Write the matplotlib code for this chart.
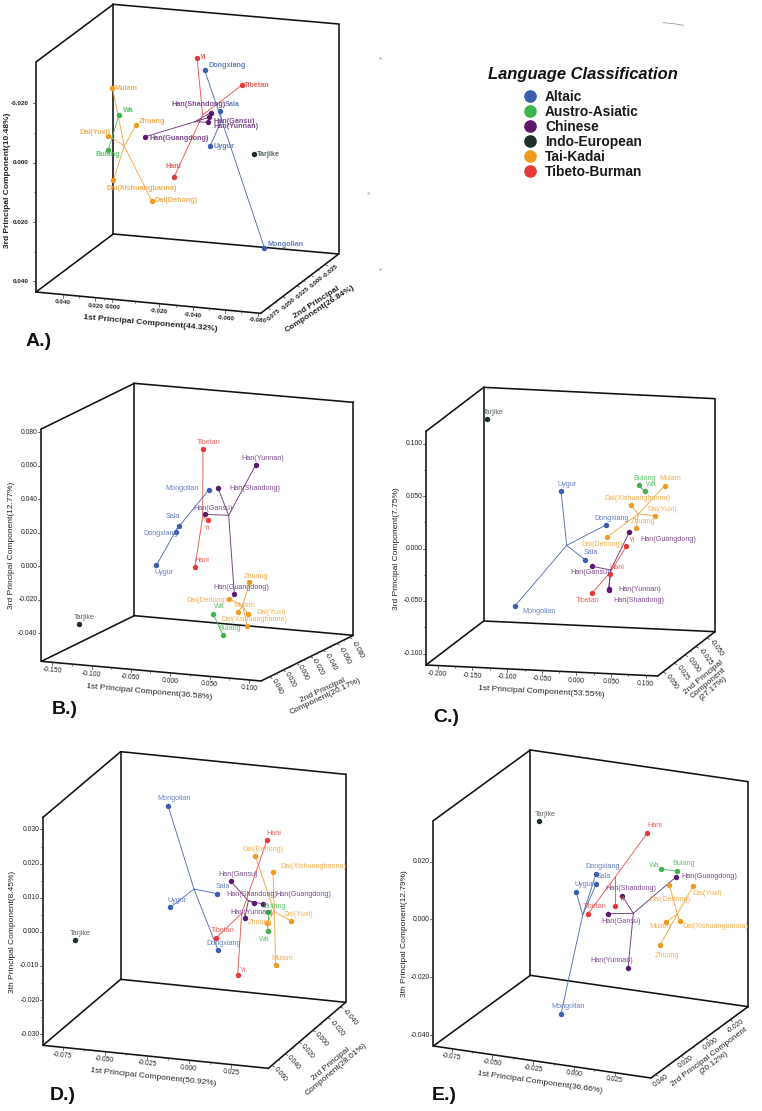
import matplotlib
matplotlib.use("Agg")
import matplotlib.pyplot as plt
import numpy as np

plt.rcParams['font.family'] = ['Liberation Sans', 'DejaVu Sans']
W, H = 762, 1111
SCALE = 3

GROUP_COLORS = {'alt': '#3A5FAE', 'aus': '#3DB54A', 'chi': '#5B1A6E', 'ind': '#1F2F2C', 'tai': '#F09A20', 'tib': '#E5393A'}
LABEL_COLORS = {'alt': '#5570B5', 'aus': '#55BD62', 'chi': '#6E3A80', 'ind': '#45524F', 'tai': '#F2A844', 'tib': '#E8584F'}
LEGEND_NAMES = ['Altaic', 'Austro-Asiatic', 'Chinese', 'Indo-European', 'Tai-Kadai', 'Tibeto-Burman']
LEGEND_KEYS = ['alt', 'aus', 'chi', 'ind', 'tai', 'tib']

POPS = ['Yi', 'Dongxiang', 'Tibetan', 'Mulam', 'Wa', 'Zhuang', 'Dai(Yuxi)', 'Bulang', 'Dai(Xishuangbanna)',
        'Dai(Dehong)', 'Hani', 'Han(Shandong)', 'Sala', 'Han(Gansu)', 'Han(Yunnan)', 'Han(Guangdong)',
        'Uygur', 'Tarjike', 'Mongolian']
POP_GROUP = ['tib', 'alt', 'tib', 'tai', 'aus', 'tai', 'tai', 'aus', 'tai',
             'tai', 'tib', 'chi', 'alt', 'chi', 'chi', 'chi', 'alt', 'ind', 'alt']

# Panel A: projected positions
A_x = [591, 614, 725, 337, 357, 408, 325, 325, 340, 455, 522, 632, 660, 627, 623, 436, 631, 762, 793]
A_y = [173, 211, 256, 263, 345, 375, 407, 450, 540, 602, 532, 338, 334, 352, 367, 410, 437, 462, 743]
A_lx = [600, 626, 733, 344, 368, 417, 239, 288, 320, 464, 496, 513, 675, 642, 642, 449, 640, 772, 803]
A_ly = [173, 197, 256, 264, 330, 365, 397, 464, 565, 603, 498, 313, 313, 364, 380, 414, 438, 462, 733]
A_tree = [('tai', (373, 438), ['Mulam', 'Zhuang', 'Dai(Yuxi)', 'Dai(Xishuangbanna)', 'Dai(Dehong)']),
          ('tib', (608, 345), ['Yi', 'Tibetan', 'Hani']),
          ('alt', (665, 360), ['Dongxiang', 'Mongolian', 'Sala', 'Uygur']),
          ('chi', (585, 365), ['Han(Guangdong)', 'Han(Shandong)', 'Han(Gansu)', 'Han(Yunnan)']),
          ('aus', (341, 397), ['Wa', 'Bulang'])]

# Panel B
B_x = [623, 527, 609, 714, 639, 748, 743, 669, 742, 688, 585, 654, 538, 616, 767, 703, 469, 236, 626]
B_y = [449, 485, 236, 726, 731, 637, 732, 795, 768, 686, 591, 354, 467, 433, 285, 673, 586, 763, 360]
B_lx = [610, 431, 591, 701, 642, 732, 769, 654, 663, 560, 583, 689, 496, 580, 725, 641, 464, 223, 496]
B_ly = [474, 491, 216, 707, 711, 618, 726, 775, 748, 692, 571, 357, 441, 414, 265, 653, 608, 743, 357]
B_tree = [('tai', (728, 708), ['Zhuang', 'Dai(Dehong)', 'Mulam', 'Dai(Yuxi)', 'Dai(Xishuangbanna)']),
          ('tib', (608, 440), ['Tibetan', 'Yi', 'Hani']),
          ('alt', (530, 478), ['Mongolian', 'Sala', 'Dongxiang', 'Uygur']),
          ('chi', (686, 436), ['Han(Yunnan)', 'Han(Shandong)', 'Han(Gansu)', 'Han(Guangdong)']),
          ('aus', (654, 763), ['Wa', 'Bulang'])]

# Panel C
C_x = [769, 708, 667, 884, 825, 799, 856, 806, 782, 712, 720, 716, 645, 667, 716, 778, 573, 351, 435]
C_y = [529, 465, 668, 347, 364, 473, 437, 346, 406, 500, 611, 661, 569, 589, 656, 487, 363, 147, 708]
C_lx = [776, 673, 618, 869, 828, 782, 833, 791, 702, 634, 718, 731, 642, 602, 746, 811, 564, 338, 457]
C_ly = [512, 446, 692, 327, 344, 454, 418, 327, 386, 525, 592, 692, 549, 609, 659, 508, 343, 127, 725]
C_tree = [('tai', (805, 432), ['Mulam', 'Dai(Xishuangbanna)', 'Dai(Yuxi)', 'Zhuang', 'Dai(Dehong)']),
          ('tib', (720, 608), ['Yi', 'Hani', 'Tibetan']),
          ('alt', (590, 526), ['Uygur', 'Dongxiang', 'Sala', 'Mongolian']),
          ('chi', (722, 600), ['Han(Guangdong)', 'Han(Gansu)', 'Han(Yunnan)', 'Han(Shandong)']),
          ('aus', (815, 355), ['Bulang', 'Wa'])]

# Panel D
D_x = [713, 654, 649, 827, 803, 800, 873, 804, 819, 766, 801, 763, 651, 692, 734, 789, 511, 224, 504]
D_y = [706, 630, 593, 675, 574, 549, 543, 517, 396, 349, 300, 490, 461, 424, 535, 492, 502, 600, 197]
D_lx = [720, 620, 634, 814, 776, 743, 849, 789, 840, 726, 798, 680, 648, 655, 691, 825, 503, 211, 472]
D_ly = [690, 611, 573, 656, 599, 549, 525, 498, 381, 329, 280, 465, 441, 404, 516, 465, 482, 581, 177]
D_tree = [('tai', (823, 515), ['Dai(Dehong)', 'Dai(Yuxi)', 'Zhuang', 'Dai(Xishuangbanna)', 'Mulam']),
          ('tib', (725, 520), ['Hani', 'Tibetan', 'Yi']),
          ('alt', (582, 447), ['Mongolian', 'Dongxiang', 'Uygur', 'Sala']),
          ('chi', (745, 482), ['Han(Gansu)', 'Han(Shandong)', 'Han(Guangdong)', 'Han(Yunnan)']),
          ('aus', (804, 545), ['Bulang', 'Wa'])]

# Panel E
E_x = [705, 648, 623, 859, 843, 840, 940, 890, 899, 868, 801, 727, 649, 685, 744, 889, 588, 476, 543]
E_y = [498, 402, 523, 546, 388, 616, 437, 393, 542, 435, 280, 468, 431, 521, 685, 410, 455, 244, 822]
E_lx = [717, 617, 610, 809, 808, 825, 938, 878, 906, 809, 801, 675, 650, 664, 632, 905, 583, 465, 515]
E_ly = [478, 380, 501, 561, 376, 646, 461, 371, 561, 478, 257, 445, 409, 544, 662, 411, 433, 222, 800]
E_tree = [('tai', (892, 522), ['Dai(Dehong)', 'Dai(Yuxi)', 'Dai(Xishuangbanna)', 'Mulam', 'Zhuang']),
          ('tib', (705, 412), ['Hani', 'Tibetan', 'Yi']),
          ('alt', (608, 525), ['Dongxiang', 'Sala', 'Uygur', 'Mongolian']),
          ('chi', (760, 520), ['Han(Shandong)', 'Han(Gansu)', 'Han(Guangdong)', 'Han(Yunnan)']),
          ('aus', (866, 390), ['Wa', 'Bulang'])]

PANELS = [
    dict(crop=(0, 0, 380, 360), xs=A_x, ys=A_y, lx=A_lx, ly=A_ly, tree=A_tree, bold=True,
         tl=(340, 13), tr=(1016, 72), br=(1016, 762), bl=(340, 702), fl=(108, 186), fb=(108, 876), fc=(782, 940),
         ytl=['-0.020', '0.000', '0.020', '0.040'], ytp=[310, 488, 666, 844], ylab_x=85,
         xtl=['0.040', '0.020', '0.000', '-0.020', '-0.040', '-0.060', '-0.080'],
         xtx=[188, 286, 337, 476, 578, 676, 773], xty=[908, 918, 921, 934, 945, 954, 961], xrot=-5,
         ztl=['0.075', '0.050', '0.025', '0.000', '-0.025'],
         ztx=[822, 868, 910, 950, 992], zty=[945, 912, 878, 845, 812], zrot=40,
         xlab='1st Principal Component(44.32%)', xlc=(452, 970), xlrot=-5,
         zlab='2nd Principal\nComponent(26.84%)', zlc=(955, 918), zlrot=33,
         ylab='3rd Principal Component(10.48%)', ylc=(22, 540), letter='A.)', lc=(78, 1025), tfs=4.6),
    dict(crop=(0, 370, 370, 370), xs=B_x, ys=B_y, lx=B_lx, ly=B_ly, tree=B_tree, bold=False,
         tl=(403, 40), tr=(1060, 97), br=(1060, 796), bl=(403, 737), fl=(124, 177), fb=(124, 874), fc=(783, 933),
         ytl=['0.080', '0.060', '0.040', '0.020', '0.000', '-0.020', '-0.040'],
         ytp=[187, 287, 388, 488, 589, 689, 790], ylab_x=112,
         xtl=['-0.150', '-0.100', '-0.050', '0.000', '0.050', '0.100'],
         xtx=[157, 275, 392, 511, 629, 747], xty=[902, 912, 923, 933, 944, 954], xrot=-5,
         ztl=['0.040', '0.020', '0.000', '-0.020', '-0.040', '-0.060', '-0.080'],
         ztx=[830, 870, 910, 953, 992, 1035, 1073], zty=[950, 930, 908, 890, 875, 857, 838], zrot=-62,
         xlab='1st Principal Component(36.58%)', xlc=(447, 966), xlrot=-5,
         zlab='2nd Principal\nComponent(20.17%)', zlc=(972, 970), zlrot=25,
         ylab='3rd Principal Component(12.77%)', ylc=(36, 525), letter='B.)', lc=(155, 1020), tfs=4.9),
    dict(crop=(370, 370, 392, 370), xs=C_x, ys=C_y, lx=C_lx, ly=C_ly, tree=C_tree, bold=False,
         tl=(341, 52), tr=(1035, 86), br=(1035, 785), bl=(341, 753), fl=(168, 184), fb=(168, 885), fc=(863, 918),
         ytl=['0.100', '0.050', '0.000', '-0.050', '-0.100'], ytp=[221, 378, 536, 693, 851], ylab_x=158,
         xtl=['-0.200', '-0.150', '-0.100', '-0.050', '0.000', '0.050', '0.100'],
         xtx=[203, 307, 412, 516, 619, 723, 827], xty=[912, 917, 922, 927, 932, 937, 942], xrot=-3,
         ztl=['0.050', '0.025', '0.000', '-0.025', '-0.050'],
         ztx=[905, 938, 970, 1005, 1038], zty=[935, 908, 884, 862, 835], zrot=-55,
         xlab='1st Principal Component(53.55%)', xlc=(513, 966), xlrot=-3,
         zlab='2nd Principal\nComponent\n(27.17%)', zlc=(1015, 940), zlrot=40,
         ylab='3rd Principal Component(7.75%)', ylc=(80, 535), letter='C.)', lc=(190, 1043), tfs=4.9),
    dict(crop=(0, 740, 380, 371), xs=D_x, ys=D_y, lx=D_lx, ly=D_ly, tree=D_tree, bold=False,
         tl=(362, 35), tr=(1037, 103), br=(1037, 787), bl=(362, 718), fl=(129, 232), fb=(129, 916), fc=(805, 985),
         ytl=['0.030', '0.020', '0.010', '0.000', '-0.010', '-0.020', '-0.030'],
         ytp=[268, 371, 473, 575, 677, 780, 882], ylab_x=118,
         xtl=['-0.075', '-0.050', '-0.025', '0.000', '0.025'],
         xtx=[188, 314, 441, 566, 693], xty=[947, 960, 972, 985, 998], xrot=-6,
         ztl=['0.060', '0.040', '0.020', '0.000', '-0.020', '-0.040'],
         ztx=[840, 880, 922, 963, 1012, 1050], zty=[1003, 968, 934, 898, 865, 832], zrot=-50,
         xlab='1st Principal Component(50.92%)', xlc=(461, 1012), xlrot=-6,
         zlab='2rd Principal\nComponent(28.01%)', zlc=(1000, 980), zlrot=40,
         ylab='3th Principal Component(8.45%)', ylc=(38, 575), letter='D.)', lc=(148, 1068), tfs=4.9),
    dict(crop=(380, 740, 382, 371), xs=E_x, ys=E_y, lx=E_lx, ly=E_ly, tree=E_tree, bold=False,
         tl=(451, 30), tr=(1104, 125), br=(1104, 800), bl=(451, 706), fl=(160, 242), fb=(160, 918), fc=(813, 1014),
         ytl=['0.020', '0.000', '-0.020', '-0.040'], ytp=[365, 538, 712, 886], ylab_x=150,
         xtl=['-0.075', '-0.050', '-0.025', '0.000', '0.025'],
         xtx=[215, 337, 460, 582, 704], xty=[952, 969, 986, 1002, 1020], xrot=-8,
         ztl=['0.040', '0.020', '0.000', '-0.020'],
         ztx=[843, 918, 992, 1067], zty=[1022, 965, 912, 858], zrot=35,
         xlab='1st Principal Component(36.66%)', xlc=(480, 1028), xlrot=-8,
         zlab='2rd Principal Component\n(20.12%)', zlc=(995, 960), zlrot=37,
         ylab='3th Principal Component(12.79%)', ylc=(72, 581), letter='E.)', lc=(155, 1068), tfs=4.9),
]

FRAME = '#111111'
TICKC = '#333333'
fig = plt.figure(figsize=(W / 100, H / 100), dpi=100, facecolor='white')


def project(p, a, b):
    a, b, p = map(lambda v: np.array(v, float), (a, b, p))
    d = b - a
    t = np.clip(np.dot(p - a, d) / np.dot(d, d), 0, 1)
    return a + t * d


def draw_edge_ticks(ax, a, b, xs, ys, direction):
    pts = [project((x, y), a, b) for x, y in zip(xs, ys)]
    d = np.array(direction, float)
    d = d / np.linalg.norm(d)
    for i, p in enumerate(pts):
        q = p + d * 9
        ax.plot([p[0], q[0]], [p[1], q[1]], color=TICKC, lw=0.5, clip_on=False)
        if i + 1 < len(pts):
            m = (p + pts[i + 1]) / 2
            q = m + d * 5
            ax.plot([m[0], q[0]], [m[1], q[1]], color=TICKC, lw=0.4, clip_on=False)


for P in PANELS:
    x0, y0, w, h = P['crop']
    ax = fig.add_axes([x0 / W, 1 - (y0 + h) / H, w / W, h / H])
    ax.set_xlim(0, w * SCALE)
    ax.set_ylim(h * SCALE, 0)
    ax.axis('off')
    ax.patch.set_alpha(0)
    tl, tr, br, bl, fl, fb, fc = (P[k] for k in ('tl', 'tr', 'br', 'bl', 'fl', 'fb', 'fc'))
    flw = 1.15
    for seg in [(tl, tr), (tr, br), (br, bl), (bl, tl), (tl, fl), (fl, fb), (fb, bl), (fb, fc), (fc, br)]:
        ax.plot([seg[0][0], seg[1][0]], [seg[0][1], seg[1][1]], color=FRAME, lw=flw, solid_capstyle='round', clip_on=False)

    weight = 'bold' if P['bold'] else 'normal'
    # y ticks
    ys = P['ytp']
    for i, (t, v) in enumerate(zip(P['ytl'], ys)):
        ax.plot([fl[0] - 9, fl[0]], [v, v], color=TICKC, lw=0.5)
        ax.text(P['ylab_x'], v, t, ha='right', va='center', fontsize=P['tfs'], weight=weight, color='#222222')
        if i + 1 < len(ys):
            m = (v + ys[i + 1]) / 2
            ax.plot([fl[0] - 5, fl[0]], [m, m], color=TICKC, lw=0.4)
    # x ticks
    draw_edge_ticks(ax, fb, fc, P['xtx'], [yy - 25 for yy in P['xty']], (0, 1))
    for t, xx, yy in zip(P['xtl'], P['xtx'], P['xty']):
        ax.text(xx, yy, t, ha='center', va='center', fontsize=P['tfs'], weight=weight, color='#222222',
                rotation=P['xrot'], rotation_mode='anchor')
    # z ticks
    draw_edge_ticks(ax, fc, br, [a - 14 for a in P['ztx']], [b - 14 for b in P['zty']], (1, 0.55))
    for t, xx, yy in zip(P['ztl'], P['ztx'], P['zty']):
        ax.text(xx, yy, t, ha='center', va='center', fontsize=P['tfs'], weight=weight, color='#222222',
                rotation=P['zrot'], rotation_mode='anchor')
    # axis labels
    for txt, c, r in [(P['xlab'], P['xlc'], P['xlrot']), (P['zlab'], P['zlc'], P['zlrot']), (P['ylab'], P['ylc'], 90)]:
        ax.text(c[0], c[1], txt, ha='center', va='center', fontsize=6.0, weight=weight, color='#222222',
                rotation=r, rotation_mode='anchor', linespacing=1.05, multialignment='center')
    ax.text(P['lc'][0], P['lc'][1], P['letter'], ha='left', va='center', fontsize=14, weight='bold', color='#111111')

    idx = {n: i for i, n in enumerate(POPS)}
    # connecting tree
    for key, hub, members in P['tree']:
        for m in members:
            i = idx[m]
            ax.plot([hub[0], P['xs'][i]], [hub[1], P['ys'][i]], color=LABEL_COLORS[key], lw=0.65, zorder=3, clip_on=False)
    # points and names
    for i, n in enumerate(POPS):
        g = POP_GROUP[i]
        ax.plot(P['xs'][i], P['ys'][i], 'o', ms=3.9, mfc=GROUP_COLORS[g], mec='none', zorder=4, clip_on=False)
        ax.text(P['lx'][i], P['ly'][i], n, ha='left', va='center', fontsize=5.2, weight=weight,
                color=LABEL_COLORS[g], zorder=5, alpha=0.9)

# legend
lax = fig.add_axes([380 / W, 1 - 280 / H, 382 / W, 280 / H])
lax.set_xlim(0, 382 * SCALE)
lax.set_ylim(280 * SCALE, 0)
lax.axis('off')
lax.patch.set_alpha(0)
lax.text(323, 224, 'Language Classification', ha='left', va='center', fontsize=11.9, weight='bold', style='italic', color='#111111')
LEG_Y = [288, 333, 378, 423, 468, 513]
for name, key, yy in zip(LEGEND_NAMES, LEGEND_KEYS, LEG_Y):
    lax.plot(450, yy, 'o', ms=9.1, mfc=GROUP_COLORS[key], mec='none')
    lax.text(495, yy + 2, name, ha='left', va='center', fontsize=9.9, weight='bold', color='#1a1a1a')
lax.plot([850, 880, 910], [68, 71, 76], color='#999999', lw=0.6)
lax.plot([-36, 0, 0], [580, 808, 175], ' ', marker='.', ms=1.5, color='#bbbbbb', clip_on=False)

fig.savefig('out.png', dpi=100, facecolor='white')
